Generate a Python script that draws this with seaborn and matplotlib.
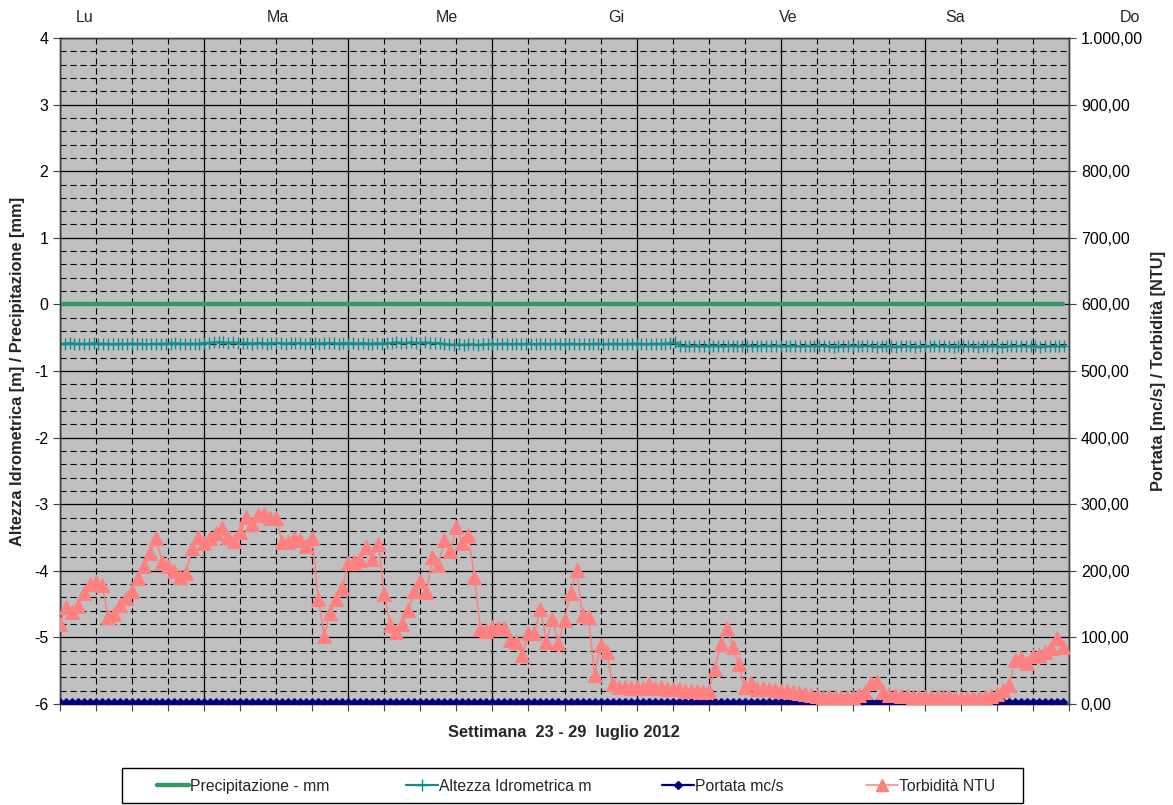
import numpy as np
import pandas as pd
import matplotlib
matplotlib.use("Agg")
import matplotlib.pyplot as plt
import seaborn as sns
from matplotlib.lines import Line2D
from matplotlib.patches import Rectangle
from matplotlib.ticker import MultipleLocator, FuncFormatter

# ---------------- data ----------------
days = ["Lu", "Ma", "Me", "Gi", "Ve", "Sa", "Do"]

# Torbidità NTU, hourly (168 readings, 23-29 luglio 2012)
torbidita = [
    120, 146, 138, 147, 167, 180, 183, 179, 131, 135, 149, 159, 170, 189, 207, 227, 249, 213, 207, 200, 190, 197, 234, 251,
    242, 249, 257, 264, 251, 245, 258, 281, 270, 284, 285, 279, 279, 243, 243, 249, 246, 237, 249, 158, 102, 137, 158, 174,
    212, 213, 216, 236, 218, 240, 165, 119, 108, 120, 141, 170, 185, 168, 221, 209, 246, 230, 266, 242, 254, 191, 112, 110,
    116, 114, 114, 96, 93, 74, 106, 106, 143, 93, 127, 92, 126, 167, 201, 134, 130, 44, 89, 78, 30, 26, 25, 24,
    26, 24, 30, 24, 26, 23, 22, 22, 20, 20, 19, 18, 19, 52, 90, 114, 86, 60, 26, 31, 22, 24, 22, 21,
    20, 19, 18, 17, 15, 13, 12, 11, 10, 10, 10, 10, 11, 13, 18, 31, 33, 18, 14, 13, 12, 12, 11, 11,
    11, 10, 10, 10, 10, 9, 9, 9, 9, 9, 10, 12, 15, 21, 28, 66, 69, 62, 72, 74, 78, 84, 99, 86,
]

# Portata mc/s, hourly
portata = [
    3.0, 3.0, 3.0, 3.0, 3.0, 3.0, 3.0, 3.0, 3.0, 3.0, 3.0, 3.0, 3.0, 3.0, 3.0, 3.0, 3.0, 3.0, 3.0, 3.0, 3.0, 3.0, 3.0, 3.0,
    3.0, 3.0, 3.0, 3.0, 3.0, 3.0, 3.0, 3.0, 3.0, 3.0, 3.0, 3.0, 3.0, 3.0, 3.0, 3.0, 3.0, 3.0, 3.0, 3.0, 3.0, 3.0, 3.0, 3.0,
    3.0, 3.0, 3.0, 3.0, 3.0, 3.0, 3.0, 3.0, 3.0, 3.0, 3.0, 3.0, 3.0, 3.0, 3.0, 3.0, 3.0, 3.0, 3.0, 3.0, 3.0, 3.0, 3.0, 3.0,
    3.0, 3.0, 3.0, 3.0, 3.0, 3.0, 3.0, 3.0, 3.0, 3.0, 3.0, 3.0, 3.0, 3.0, 3.0, 3.0, 3.0, 3.0, 3.0, 3.0, 3.0, 3.0, 3.0, 3.0,
    3.0, 3.0, 3.0, 3.0, 3.0, 3.0, 3.0, 3.0, 3.0, 3.0, 3.0, 3.0, 3.0, 3.0, 3.0, 3.0, 3.0, 3.0, 3.0, 3.0, 3.0, 3.0, 3.0, 3.0,
    3.0, 3.0, 3.0, 3.0, 3.0, 1.5, 1.5, 1.5, 1.5, 1.5, 1.5, 1.5, 1.5, 1.5, 3.5, 3.5, 3.5, 3.5, 1.0, 1.0, 1.0, 1.0, 1.0, 1.0,
    1.0, 1.0, 1.0, 1.0, 1.0, 1.0, 1.0, 1.0, 1.0, 1.0, 1.0, 1.0, 1.0, 3.5, 3.5, 3.5, 3.5, 3.5, 3.5, 3.5, 3.5, 3.5, 3.5, 3.5,
]

# Precipitazione mm, hourly
precipitazione = [0.0] * 168

# Altezza Idrometrica m, 30 readings per day (7 days)
altezza = [
    -0.59, -0.59, -0.58, -0.59, -0.59, -0.59, -0.59, -0.58, -0.59, -0.59, -0.59, -0.60, -0.59, -0.59, -0.59,
    -0.59, -0.59, -0.59, -0.60, -0.59, -0.59, -0.59, -0.59, -0.59, -0.58, -0.59, -0.59, -0.59, -0.59, -0.59,
    -0.58, -0.58, -0.57, -0.57, -0.57, -0.58, -0.57, -0.58, -0.58, -0.58, -0.59, -0.58, -0.58, -0.59, -0.58,
    -0.58, -0.58, -0.59, -0.58, -0.58, -0.58, -0.59, -0.58, -0.58, -0.59, -0.58, -0.58, -0.58, -0.59, -0.58,
    -0.59, -0.58, -0.59, -0.58, -0.59, -0.59, -0.58, -0.59, -0.58, -0.58, -0.57, -0.58, -0.58, -0.57, -0.58,
    -0.58, -0.57, -0.58, -0.58, -0.58, -0.60, -0.60, -0.61, -0.60, -0.61, -0.60, -0.60, -0.61, -0.60, -0.60,
    -0.59, -0.60, -0.59, -0.59, -0.60, -0.59, -0.60, -0.59, -0.59, -0.60, -0.59, -0.59, -0.60, -0.59, -0.59,
    -0.60, -0.59, -0.59, -0.60, -0.59, -0.60, -0.59, -0.59, -0.60, -0.59, -0.59, -0.59, -0.60, -0.59, -0.59,
    -0.59, -0.59, -0.60, -0.59, -0.59, -0.59, -0.59, -0.58, -0.57, -0.62, -0.62, -0.63, -0.62, -0.62, -0.63,
    -0.62, -0.62, -0.62, -0.63, -0.62, -0.62, -0.62, -0.63, -0.62, -0.62, -0.63, -0.62, -0.62, -0.62, -0.62,
    -0.62, -0.63, -0.62, -0.62, -0.63, -0.63, -0.62, -0.63, -0.63, -0.62, -0.63, -0.64, -0.63, -0.63, -0.63,
    -0.62, -0.63, -0.63, -0.62, -0.63, -0.64, -0.63, -0.63, -0.63, -0.64, -0.63, -0.63, -0.63, -0.64, -0.63,
    -0.63, -0.63, -0.62, -0.63, -0.63, -0.63, -0.64, -0.63, -0.63, -0.63, -0.63, -0.64, -0.63, -0.63, -0.63,
    -0.63, -0.64, -0.63, -0.63, -0.63, -0.62, -0.63, -0.63, -0.63, -0.64, -0.63, -0.63, -0.63, -0.63, -0.63,
]

hours = np.arange(len(torbidita))
hours_alt = np.arange(len(altezza)) * (24.0 / 30.0)

# ---------------- style ----------------
sns.set_style("white")
plt.rcParams["font.family"] = ["Liberation Sans", "DejaVu Sans"]
plt.rcParams["axes.unicode_minus"] = False

W, H = 1173, 805
fig = plt.figure(figsize=(W / 100, H / 100), dpi=100)
fig.patch.set_facecolor("white")

L, R, T, B = 60, 1069, 38, 704
ax = fig.add_axes([L / W, 1 - B / H, (R - L) / W, (B - T) / H])
ax.set_facecolor("#C0C0C0")
ax.set_xlim(0, 168)
ax.set_ylim(-6, 4)

ax.xaxis.set_major_locator(MultipleLocator(24))
ax.xaxis.set_minor_locator(MultipleLocator(6))
ax.yaxis.set_major_locator(MultipleLocator(1))
ax.yaxis.set_minor_locator(MultipleLocator(0.2))
ax.set_axisbelow(True)
ax.grid(which="major", color="black", lw=0.9, ls="-")
ax.grid(which="minor", color="black", lw=0.8, ls=(0, (5.5, 3.5)))

ax.tick_params(axis="x", which="both", direction="out", length=5, width=0.8,
               labelbottom=False, bottom=True, colors="#404040")
ax.tick_params(axis="y", which="major", direction="out", length=5, width=0.8,
               labelsize=11.5, labelcolor="black", color="#404040")
ax.tick_params(axis="y", which="minor", length=0)
ax.yaxis.set_major_formatter(FuncFormatter(lambda v, p: f"{int(round(v))}"))

green = "#339966"
teal = "#138C8C"
navy = "#000080"
pink = "#FF8080"

df_p = pd.DataFrame({"ora": hours, "prec": precipitazione, "portata": portata, "torb": torbidita})
df_a = pd.DataFrame({"ora": hours_alt, "alt": altezza})

sns.lineplot(data=df_p, x="ora", y="prec", ax=ax, color=green, lw=3.2, zorder=3)
sns.lineplot(data=df_a, x="ora", y="alt", ax=ax, color=teal, lw=1.6, marker="+",
             markersize=8, markeredgewidth=1.0, markeredgecolor=teal, zorder=4)
ax.set_xlabel("")
ax.set_ylabel("")

ax2 = ax.twinx()
ax2.set_ylim(0, 1000)
ax2.set_xlim(0, 168)
ax2.yaxis.set_major_locator(MultipleLocator(100))


def it_fmt(v, pos):
    s = f"{v:,.2f}"
    return s.replace(",", "X").replace(".", ",").replace("X", ".")


ax2.yaxis.set_major_formatter(FuncFormatter(it_fmt))
ax2.tick_params(axis="y", direction="out", length=5, width=0.8, labelsize=11.5,
                color="#404040", labelcolor="black")
ax2.grid(False)

sns.lineplot(data=df_p, x="ora", y="portata", ax=ax2, color=navy, lw=1.8, marker="D",
             markersize=4.5, markeredgecolor=navy, zorder=3)
sns.lineplot(data=df_p, x="ora", y="torb", ax=ax2, color=pink, lw=1.1, marker="^",
             markersize=9.5, markeredgecolor=pink, zorder=4)
ax2.set_xlabel("")
ax2.set_ylabel("")

for a in (ax, ax2):
    for s in a.spines.values():
        s.set_color("#404040")
        s.set_linewidth(1.0)
        s.set_visible(True)

# day labels on top
day_px = [85, 278, 447, 616, 788, 955, 1130]
for d, px in zip(days, day_px):
    fig.text(px / W, 1 - 17 / H, d, ha="center", va="center", fontsize=11.5)

# axis titles
fig.text(18 / W, 1 - 371 / H, "Altezza Idrometrica [m] / Precipitazione [mm]", rotation=90,
         ha="center", va="center", fontsize=11.8, fontweight="bold")
fig.text(1158 / W, 1 - 371 / H, "Portata [mc/s] / Torbidità [NTU]", rotation=90,
         ha="center", va="center", fontsize=11.8, fontweight="bold")
fig.text(564 / W, 1 - 732 / H, "Settimana  23 - 29  luglio 2012", ha="center", va="center",
         fontsize=11.8, fontweight="bold")

# legend: box plus one entry per series at its own position
handles = [
    Line2D([], [], color=green, lw=3.2),
    Line2D([], [], color=teal, lw=1.6, marker="+", markersize=8, markeredgewidth=1.0),
    Line2D([], [], color=navy, lw=1.6, marker="D", markersize=4.5),
    Line2D([], [], color=pink, lw=1.1, marker="^", markersize=9),
]
labels = ["Precipitazione - mm", "Altezza Idrometrica m", "Portata mc/s", "Torbidità NTU"]
fig.patches.append(Rectangle((122 / W, 1 - 803 / H), (1023 - 122) / W, 35 / H,
                             transform=fig.transFigure, facecolor="white",
                             edgecolor="black", lw=1.0, zorder=0))
entry_px = [157, 406, 662, 866]
for h, lab, px in zip(handles, labels, entry_px):
    fig.legend([h], [lab], loc="center left", bbox_to_anchor=(px / W, 1 - 786 / H),
               frameon=False, fontsize=11.3, handlelength=2.05, handletextpad=0.05,
               borderaxespad=0, borderpad=0, numpoints=1)

fig.savefig("out.png", dpi=100, facecolor="white")
